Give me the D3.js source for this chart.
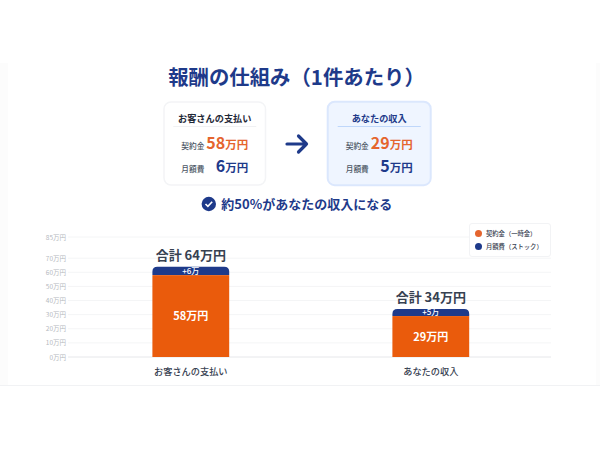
<!DOCTYPE html>
<html><head><meta charset="utf-8">
<style>html,body{margin:0;padding:0;background:#fff}svg{display:block}text{font-family:"Noto Sans CJK JP","Noto Sans",sans-serif}</style>
<script src="https://cdn.jsdelivr.net/npm/d3@7/dist/d3.min.js"></script>
</head><body><svg id="c" width="600" height="450"></svg>
<script>
const categories = ["お客さんの支払い", "あなたの収入"];
const contractValues = [58, 29];
const monthlyValues = [6, 5];
const tickValues = [0, 10, 20, 30, 40, 50, 60, 70, 85];
const legendLabels = ["契約金（一時金）", "月額費（ストック）"];
const colors = {orange: "#EA5B0C", navy: "#1E3A8A", textOrange: "#E5652E"};

const svg = d3.select("#c");
const text = (p, x, y, s, size, fill, weight, anchor) => p.append("text")
  .attr("x", x).attr("y", y).attr("font-size", size).attr("fill", fill)
  .attr("font-weight", weight || 400).attr("text-anchor", anchor || "middle").text(s);

// page panel
svg.append("rect").attr("x", 0).attr("y", 63).attr("width", 600).attr("height", 322).attr("fill", "#fcfcfc");
svg.append("rect").attr("x", 8).attr("y", 63).attr("width", 588).attr("height", 322).attr("fill", "#fff");
svg.append("line").attr("x1", 0).attr("x2", 600).attr("y1", 385.5).attr("y2", 385.5).attr("stroke", "#f1f2f4");

text(svg, 296.5, 85, "報酬の仕組み（1件あたり）", 20.4, colors.navy, 700);

// cards
function card(x, w, y, h, title, a, b, hi) {
  const g = svg.append("g");
  g.append("rect").attr("x", x).attr("y", y).attr("width", w).attr("height", h).attr("rx", 7)
    .attr("fill", hi ? "#EFF5FF" : "#fff").attr("stroke", hi ? "#DBE7FD" : "#f3f4f6").attr("stroke-width", hi ? 2 : 1.5);
  const cx = x + w / 2;
  text(g, cx, 121.5, title, 9.2, hi ? colors.navy : "#1f2937", 700);
  g.append("line").attr("x1", cx - 41.5).attr("x2", cx + 41.5).attr("y1", 126.5).attr("y2", 126.5)
    .attr("stroke", hi ? "#BFD7FB" : "#f0f1f3");
  const right = cx + 33.5;
  text(g, cx - 33.5, 148.5, "契約金", 7.7, "#4b5563", 500, "start");
  const t1 = text(g, right, 149, "", 16, colors.textOrange, 700, "end");
  t1.append("tspan").text(a);
  t1.append("tspan").attr("font-size", 11.5).text("万円");
  text(g, cx - 33.5, 171.5, "月額費", 7.7, "#4b5563", 500, "start");
  const t2 = text(g, right, 172, "", 16, colors.navy, 700, "end");
  t2.append("tspan").text(b);
  t2.append("tspan").attr("font-size", 11.5).text("万円");
}
card(164, 101.5, 102, 83, categories[0], contractValues[0], monthlyValues[0], false);
card(327.7, 103, 101.7, 83.5, categories[1], contractValues[1], monthlyValues[1], true);

// arrow
svg.append("path").attr("d", "M287 144H306.5M298.5 136L306.5 144L298.5 152")
  .attr("fill", "none").attr("stroke", colors.navy).attr("stroke-width", 3.2).attr("stroke-linecap", "round").attr("stroke-linejoin", "round");

// check
svg.append("circle").attr("cx", 208.8).attr("cy", 204).attr("r", 7.2).attr("fill", colors.navy);
svg.append("path").attr("d", "M205.5 204L207.9 206.4L212.2 201.8").attr("fill", "none").attr("stroke", "#fff").attr("stroke-width", 1.6);
text(svg, 221.3, 209, "約50%があなたの収入になる", 13, colors.navy, 700, "start");

// chart
const y = d3.scaleLinear().domain([0, 85]).range([357, 237]);
const x = d3.scaleBand().domain(categories).range([70.8, 550.8]).paddingInner(0.68).paddingOuter(0.34);

const axis = d3.axisLeft(y).tickValues(tickValues).tickSize(0).tickPadding(2).tickFormat(d => d + "万円");
const ag = svg.append("g").attr("transform", "translate(68,0)").call(axis);
ag.select(".domain").remove();
ag.selectAll("text").attr("font-size", 6.5).attr("fill", "#b5b9c0");
svg.append("g").selectAll("line").data(tickValues).join("line")
  .attr("x1", 68).attr("x2", 551).attr("y1", d => y(d)).attr("y2", d => y(d))
  .attr("stroke", d => d === 0 ? "#e6e7ea" : "#f4f5f6");

const rows = categories.map((c, i) => ({c, a: contractValues[i], b: monthlyValues[i]}));
const bars = svg.append("g").selectAll("g").data(rows).join("g");
bars.each(function(d) {
  const g = d3.select(this), bx = x(d.c), w = x.bandwidth(), top = y(d.a + d.b), mid = y(d.a), r = 5;
  const cx = bx + w / 2;
  g.append("rect").attr("x", bx).attr("y", mid).attr("width", w).attr("height", y(0) - mid).attr("fill", colors.orange);
  g.append("path").attr("fill", colors.navy)
    .attr("d", `M${bx} ${mid}V${top + r}Q${bx} ${top} ${bx + r} ${top}H${bx + w - r}Q${bx + w} ${top} ${bx + w} ${top + r}V${mid}Z`);
  text(g, cx, (top + mid) / 2 + 2.8, `+${d.b}万`, 8, "#fff", 500);
  text(g, cx, (mid + y(0)) / 2 + 4, `${d.a}万円`, 11, "#fff", 700);
  text(g, cx, top - 7, `合計 ${d.a + d.b}万円`, 13, "#374151", 700);
  text(g, cx, 375, d.c, 9.2, "#374151", 500);
});

// legend
const lg = svg.append("g");
lg.append("rect").attr("x", 469.5).attr("y", 223.5).attr("width", 81).attr("height", 33).attr("rx", 2.5)
  .attr("fill", "#fff").attr("stroke", "#f2f3f5");
legendLabels.forEach((l, i) => {
  const cy = 233.5 + i * 13;
  lg.append("circle").attr("cx", 478.5).attr("cy", cy).attr("r", 3.5).attr("fill", i ? colors.navy : colors.textOrange);
  text(lg, 486, cy + 2.2, l, 6.3, "#374151", 500, "start");
});
</script></body></html>
